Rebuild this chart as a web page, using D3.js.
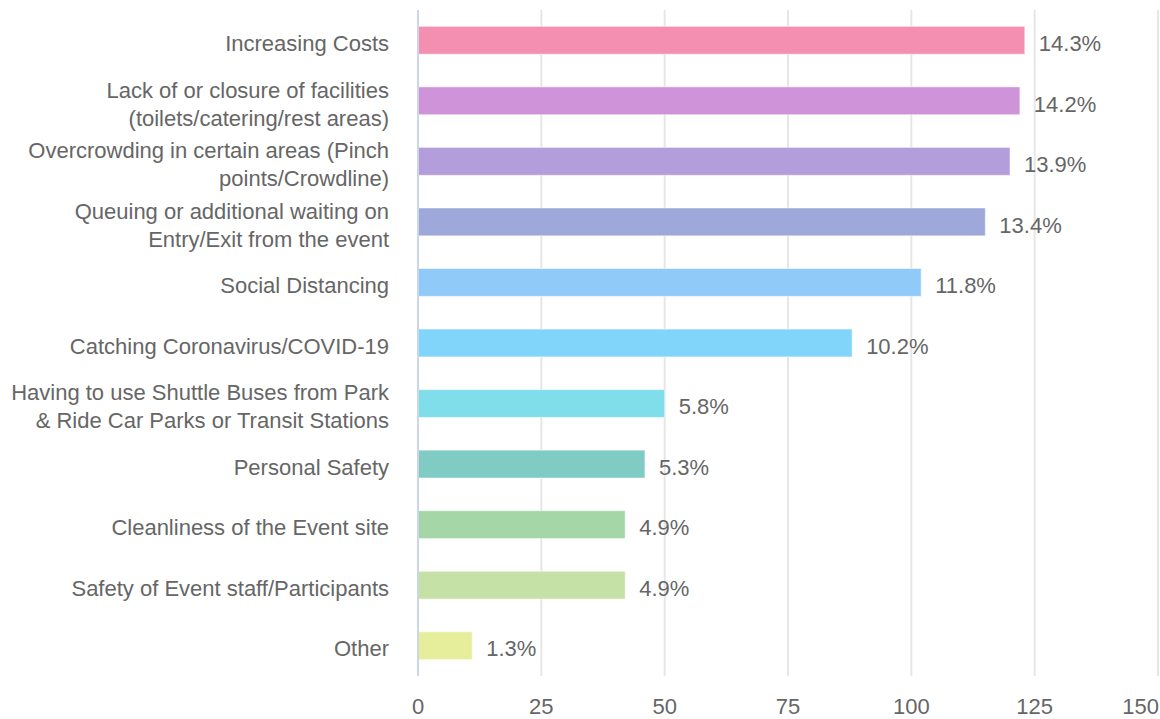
<!DOCTYPE html>
<html>
<head>
<meta charset="utf-8">
<script src="https://cdn.jsdelivr.net/npm/d3@7"></script>
<style>
  body { margin: 0; background: #fff; }
  svg { display: block; font-family: "Liberation Sans", Arial, sans-serif; }
</style>
</head>
<body>
<svg width="1160" height="719"></svg>
<script>
const categories = [
  ['Increasing Costs'],
  ['Lack of or closure of facilities', '(toilets/catering/rest areas)'],
  ['Overcrowding in certain areas (Pinch', 'points/Crowdline)'],
  ['Queuing or additional waiting on', 'Entry/Exit from the event'],
  ['Social Distancing'],
  ['Catching Coronavirus/COVID-19'],
  ['Having to use Shuttle Buses from Park', '& Ride Car Parks or Transit Stations'],
  ['Personal Safety'],
  ['Cleanliness of the Event site'],
  ['Safety of Event staff/Participants'],
  ['Other']
];
const counts = [123, 122, 120, 115, 102, 88, 50, 46, 42, 42, 11];
const pctLabels = ['14.3%', '14.2%', '13.9%', '13.4%', '11.8%', '10.2%', '5.8%', '5.3%', '4.9%', '4.9%', '1.3%'];
const colors = ['#f48fb1', '#ce93d8', '#b39ddb', '#9fa8da', '#90caf9', '#81d4fa',
                '#80deea', '#80cbc4', '#a5d6a7', '#c5e1a5', '#e6ee9c'];
const xTicks = [0, 25, 50, 75, 100, 125, 150];

const svg = d3.select('svg');
const plotLeft = 418, plotRight = 1158, plotTop = 10, plotBottom = 676;
const fs = 22;

const x = d3.scaleLinear().domain([0, 150]).range([plotLeft, plotRight]);
const y = d3.scaleBand().domain(d3.range(categories.length)).range([plotTop, plotBottom]).paddingInner(0.54).paddingOuter(0.27);

// gridlines
svg.append('g').selectAll('line').data(xTicks.slice(1))
  .enter().append('line')
    .attr('x1', d => x(d)).attr('x2', d => x(d))
    .attr('y1', plotTop).attr('y2', plotBottom)
    .attr('stroke', '#e6e6e6').attr('stroke-width', 2);

// bars
svg.append('g').selectAll('rect').data(counts)
  .enter().append('rect')
    .attr('x', x(0))
    .attr('y', (d, i) => y(i))
    .attr('width', d => x(d) - x(0))
    .attr('height', y.bandwidth())
    .attr('fill', (d, i) => colors[i])
    .attr('stroke', '#fff').attr('stroke-opacity', 0.5).attr('stroke-width', 1);

// axis line
svg.append('line')
  .attr('x1', x(0)).attr('x2', x(0))
  .attr('y1', plotTop).attr('y2', plotBottom)
  .attr('stroke', '#ccd6eb').attr('stroke-width', 2);

// value labels
svg.append('g').selectAll('text').data(counts)
  .enter().append('text')
    .attr('x', d => x(d) + 14)
    .attr('y', (d, i) => y(i) + y.bandwidth() / 2 + 3)
    .attr('dy', '0.35em')
    .attr('fill', '#666')
    .attr('font-size', fs)
    .text((d, i) => pctLabels[i]);

// category labels
const cat = svg.append('g').selectAll('text').data(categories)
  .enter().append('text')
    .attr('text-anchor', 'end')
    .attr('fill', '#666')
    .attr('font-size', fs)
    .attr('y', (d, i) => y(i) + y.bandwidth() / 2 + 3 + 0.35 * fs);
cat.selectAll('tspan').data(d => d.map((t, j) => ({t, j, n: d.length})))
  .enter().append('tspan')
    .attr('x', 389)
    .attr('dy', d => d.j === 0 ? -(d.n - 1) * 14 : 28)
    .text(d => d.t);

// x tick labels (last one kept inside the frame)
svg.append('g').selectAll('text').data(xTicks)
  .enter().append('text')
    .attr('x', (d, i) => i === xTicks.length - 1 ? 1159 : x(d))
    .attr('y', 714)
    .attr('text-anchor', (d, i) => i === xTicks.length - 1 ? 'end' : 'middle')
    .attr('fill', '#666')
    .attr('font-size', fs)
    .text(d => d);
</script>
</body>
</html>
